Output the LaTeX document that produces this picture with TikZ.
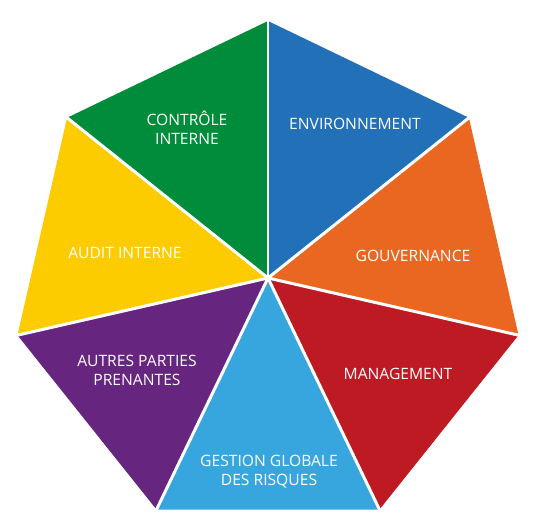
\documentclass[tikz,border=0pt]{standalone}
\usepackage{fontspec}
\setmainfont{Open Sans}
\usetikzlibrary{calc}

\definecolor{vert}{RGB}{0,140,58}
\definecolor{bleu}{RGB}{34,112,184}
\definecolor{orange}{RGB}{234,103,34}
\definecolor{rouge}{RGB}{190,26,36}
\definecolor{ciel}{RGB}{56,166,222}
\definecolor{violet}{RGB}{102,38,127}
\definecolor{jaune}{RGB}{252,203,0}

\tikzset{
  lbl/.style={text=white, align=center, inner sep=0pt, font=\fontsize{8.9}{10.9}\selectfont},
  gap/.style={draw=white, line width=1.7pt, line cap=round}
}

\begin{document}
\begin{tikzpicture}[x=0.02cm, y=0.02cm]
    \useasboundingbox (-268,-253) rectangle (267,278);

    \coordinate (c) at (0,0);
    \coordinate (1) at (90:257);
    \coordinate (2) at (38.57:257);
    \coordinate (3) at (-12.86:257);
    \coordinate (4) at (-64.29:257);
    \coordinate (5) at (-115.71:257);
    \coordinate (6) at (-167.14:257);
    \coordinate (7) at (141.43:257);

    \fill[bleu] (c) -- (1) -- (2) -- cycle;
    \fill[orange] (c) -- (2) -- (3) -- cycle;
    \fill[rouge] (c) -- (3) -- (4) -- cycle;
    \fill[ciel] (c) -- (4) -- (5) -- cycle;
    \fill[violet] (c) -- (5) -- (6) -- cycle;
    \fill[jaune] (c) -- (6) -- (7) -- cycle;
    \fill[vert] (c) -- (7) -- (1) -- cycle;

    \draw[gap] (c) -- (1);
    \draw[gap] (c) -- (2);
    \draw[gap] (c) -- (3);
    \draw[gap] (c) -- (4);
    \draw[gap] (c) -- (5);
    \draw[gap] (c) -- (6);
    \draw[gap] (c) -- (7);

    \node[lbl] (controle) at (-81,150) {CONTRÔLE\\INTERNE};
    \node[lbl] (environnement) at (87,154) {ENVIRONNEMENT};
    \node[lbl] (gouvernance) at (145,22) {GOUVERNANCE};
    \node[lbl] (management) at (130,-96) {MANAGEMENT};
    \node[lbl] (risques) at (1,-194) {GESTION GLOBALE\\DES RISQUES};
    \node[lbl] (parties) at (-131,-92) {AUTRES PARTIES\\PRENANTES};
    \node[lbl] (audit) at (-143,25) {AUDIT INTERNE};
  \end{tikzpicture}
\end{document}
